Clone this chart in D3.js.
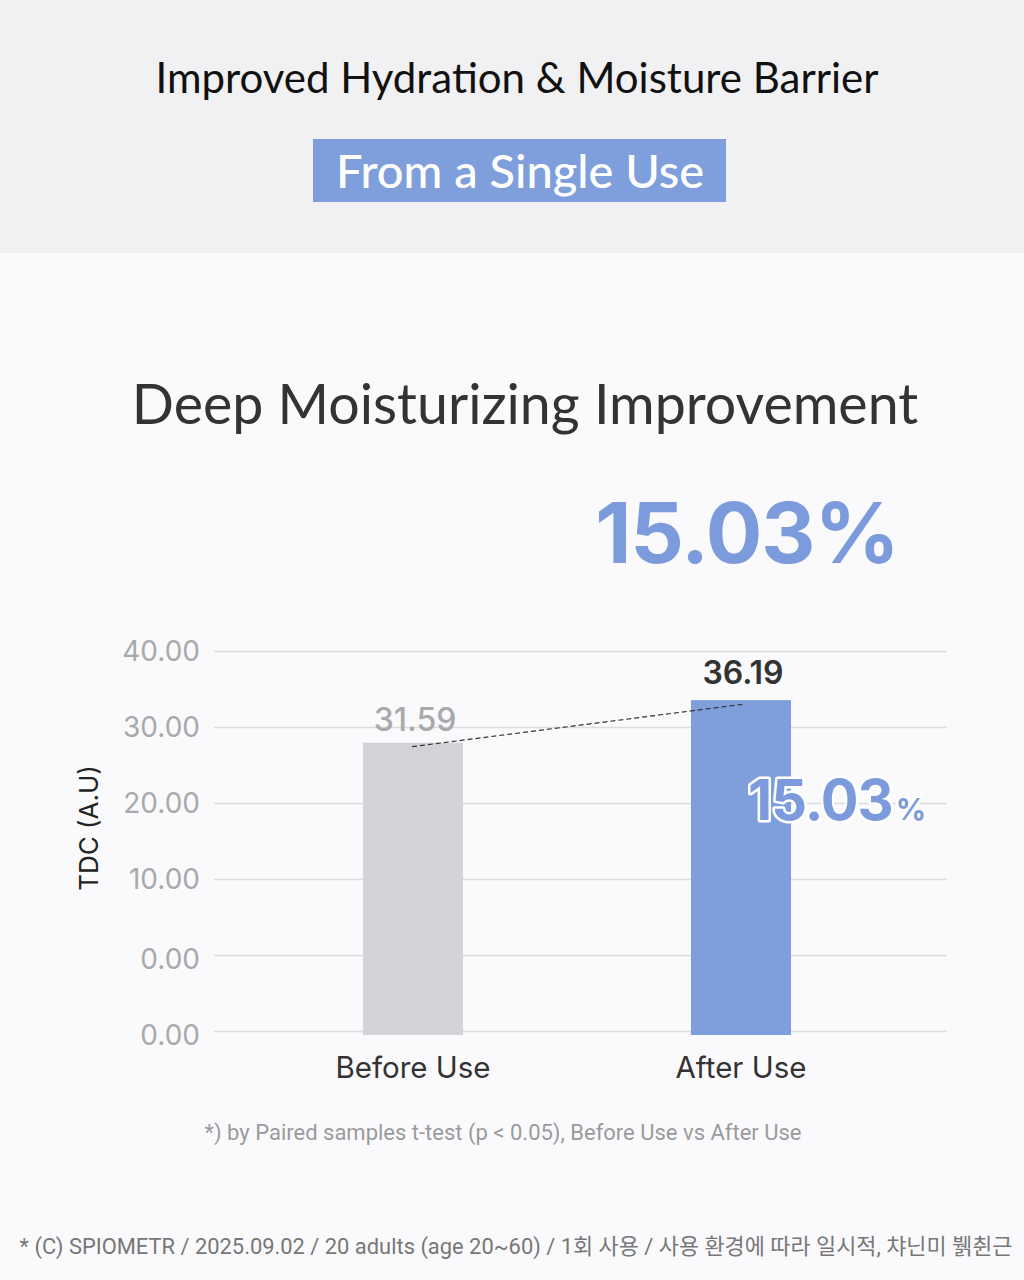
<!DOCTYPE html>
<html><head><meta charset="utf-8">
<script src="https://cdn.jsdelivr.net/npm/d3@7"></script>
<style>html,body{margin:0;padding:0;background:#fafafc;}svg{display:block;}</style>
</head><body>
<script>
const categories = ["Before Use", "After Use"];
const values = [31.59, 36.19];
const valueLabels = ["31.59", "36.19"];
const tickLabels = ["40.00", "30.00", "20.00", "10.00", "0.00", "0.00"];
const improvement = "15.03";
const headerTitle = "Improved Hydration & Moisture Barrier";
const badgeText = "From a Single Use";
const chartTitle = "Deep Moisturizing Improvement";
const yTitle = "TDC (A.U)";
const note = "*) by Paired samples t-test (p < 0.05), Before Use vs After Use";
const footer = "* (C) SPIOMETR / 2025.09.02 / 20 adults (age 20~60) / 1회 사용 / 사용 환경에 따라 일시적, 챠닌미 뷁췬근";

const W = 1024, H = 1280;
const svg = d3.select("body").append("svg").attr("width", W).attr("height", H);

svg.append("rect").attr("width", W).attr("height", H).attr("fill", "#fafafc");
svg.append("rect").attr("width", W).attr("height", 253).attr("fill", "#f1f0f2");

const headFont = "Lato, 'Open Sans', sans-serif";
const numFont = "Inter, Roboto, sans-serif";

svg.append("text").attr("x", 517).attr("y", 93).attr("text-anchor", "middle")
  .attr("font-family", headFont).attr("font-weight", 400).attr("font-size", 42)
  .attr("fill", "#111").text(headerTitle);

svg.append("rect").attr("x", 313).attr("y", 139).attr("width", 413).attr("height", 63).attr("fill", "#7f9fdc");
svg.append("text").attr("x", 520).attr("y", 188).attr("text-anchor", "middle")
  .attr("font-family", headFont).attr("font-weight", 500).attr("font-size", 47)
  .attr("fill", "#fff").text(badgeText);

svg.append("text").attr("x", 525).attr("y", 424).attr("text-anchor", "middle")
  .attr("font-family", headFont).attr("font-weight", 400).attr("font-size", 55.5)
  .attr("fill", "#333").text(chartTitle);

svg.append("text").attr("x", 747).attr("y", 563).attr("text-anchor", "middle")
  .attr("font-family", numFont).attr("font-weight", 700).attr("font-size", 84)
  .attr("fill", "#7b9bdc").attr("letter-spacing", -1).text(improvement + "%");

// scales
const x = d3.scaleBand().domain(categories).range([167, 987]).paddingInner(0.695).paddingOuter(0.5976);
const gridY = d3.scalePoint().domain(d3.range(tickLabels.length)).range([651, 1031]);
const y = d3.scaleLinear().domain([0, 41.5]).range([1035, 651]);

// gridlines
svg.append("g").selectAll("line").data(tickLabels).join("line")
  .attr("x1", 214).attr("x2", 947)
  .attr("y1", (d, i) => gridY(i) + 0.5).attr("y2", (d, i) => gridY(i) + 0.5)
  .attr("stroke", "#dcdcdf").attr("stroke-width", 1.5);

svg.append("g").selectAll("text").data(tickLabels).join("text")
  .attr("x", 200).attr("y", (d, i) => gridY(i) + (i >= 4 ? 14 : 10))
  .attr("text-anchor", "end").attr("font-family", numFont).attr("font-size", 28)
  .attr("fill", "#a9a9ab").text(d => d);

svg.append("text").attr("transform", "translate(98,828) rotate(-90)")
  .attr("text-anchor", "middle").attr("font-family", numFont).attr("font-size", 26)
  .attr("fill", "#222").text(yTitle);

const colors = ["#d3d2d6", "#7f9fdc"];
svg.append("g").selectAll("rect").data(values).join("rect")
  .attr("x", (d, i) => x(categories[i])).attr("width", x.bandwidth())
  .attr("y", d => y(d)).attr("height", d => y(0) - y(d))
  .attr("fill", (d, i) => colors[i]);

// dashed connector
const cx = i => x(categories[i]) + x.bandwidth() / 2;
svg.append("line")
  .attr("x1", cx(0) - 1).attr("y1", y(values[0]) + 4)
  .attr("x2", cx(1) + 3).attr("y2", y(values[1]) + 4)
  .attr("stroke", "#333").attr("stroke-width", 1.2).attr("stroke-dasharray", "5,3");

// value labels
svg.append("g").selectAll("text").data(values).join("text")
  .attr("x", (d, i) => cx(i) + 2).attr("y", (d, i) => y(d) - (i === 0 ? 12 : 16))
  .attr("text-anchor", "middle").attr("font-family", numFont)
  .attr("font-weight", (d, i) => i === 0 ? 500 : 600).attr("font-size", 32)
  .attr("fill", (d, i) => i === 0 ? "#a9a9ab" : "#333")
  .text((d, i) => valueLabels[i]);

// inside improvement label
const imp = svg.append("text").attr("x", 748).attr("y", 820)
  .attr("font-family", numFont).attr("font-weight", 700)
  .attr("fill", "#7b9bdc").attr("stroke", "#fff").attr("stroke-width", 5)
  .attr("paint-order", "stroke").attr("stroke-linejoin", "round");
imp.append("tspan").attr("font-size", 56).attr("letter-spacing", -1).text(improvement);
imp.append("tspan").attr("font-size", 30).attr("dx", 3).text("%");

// category labels
svg.append("g").selectAll("text").data(categories).join("text")
  .attr("x", d => cx(categories.indexOf(d))).attr("y", 1078)
  .attr("text-anchor", "middle").attr("font-family", numFont).attr("font-size", 29.5)
  .attr("fill", "#333").text(d => d);

svg.append("text").attr("x", 503).attr("y", 1140).attr("text-anchor", "middle")
  .attr("font-family", "Roboto, sans-serif").attr("font-size", 22)
  .attr("fill", "#9a9a9c").text(note);

svg.append("text").attr("x", 516).attr("y", 1254).attr("text-anchor", "middle")
  .attr("font-family", "Roboto, 'Noto Sans CJK KR', sans-serif").attr("font-size", 21.9)
  .attr("fill", "#777").text(footer);
</script>
</body></html>
